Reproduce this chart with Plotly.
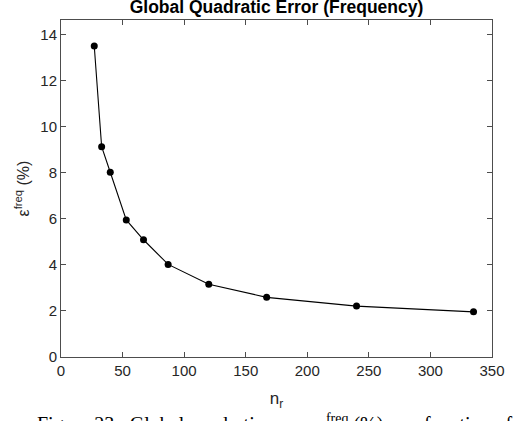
import plotly.graph_objects as go

# Number of reduced modes and the corresponding global quadratic error (%)
n_r = [27, 33, 40, 53, 67, 87, 120, 167, 240, 335]
eps_freq = [13.5, 9.13, 8.02, 5.95, 5.09, 4.02, 3.16, 2.59, 2.21, 1.96]

x_ticks = [0, 50, 100, 150, 200, 250, 300, 350]
y_ticks = [0, 2, 4, 6, 8, 10, 12, 14]

axis_color = "#4d4d4d"
font_sans = "Liberation Sans, Arial, Helvetica, sans-serif"

fig = go.Figure()
fig.add_trace(go.Scatter(
    x=n_r, y=eps_freq,
    mode="lines+markers",
    line=dict(color="black", width=1.1),
    marker=dict(color="black", size=7, symbol="circle"),
    showlegend=False,
))

common_axis = dict(
    showline=True, linecolor=axis_color, linewidth=1,
    mirror="ticks", ticks="inside", ticklen=5, tickcolor=axis_color,
    showgrid=False, zeroline=False,
    tickfont=dict(family=font_sans, size=15, color="#262626"),
)

fig.update_xaxes(
    range=[0, 350], tickvals=x_ticks,
    title=dict(text="n<sub>r</sub>", font=dict(family=font_sans, size=17, color="#262626"), standoff=14),
    **common_axis,
)
fig.update_yaxes(
    range=[0, 14.63], tickvals=y_ticks,
    title=dict(text="ε<sup>freq</sup> (%)", font=dict(family=font_sans, size=16, color="#262626"), standoff=6),
    **common_axis,
)

fig.update_layout(
    width=517, height=421,
    margin=dict(l=61, r=13, t=20, b=64),
    paper_bgcolor="white", plot_bgcolor="white",
    title=dict(
        text="<b>Global Quadratic Error (Frequency)</b>",
        font=dict(family=font_sans, size=17.5, color="black"),
        x=0.5, xref="paper", xanchor="center",
        y=1.0, yref="container", yanchor="top", pad=dict(t=1),
    ),
)

# Document caption running below the figure
fig.add_annotation(
    text="Figure 23:  Global quadratic error  ε<sup>freq</sup> (%) as a function of",
    xref="paper", yref="paper", x=-0.06, y=-0.155,
    xanchor="left", yanchor="top", showarrow=False,
    font=dict(family="Liberation Serif, Times New Roman, serif", size=20, color="black"),
)

fig.write_html("out.html")
